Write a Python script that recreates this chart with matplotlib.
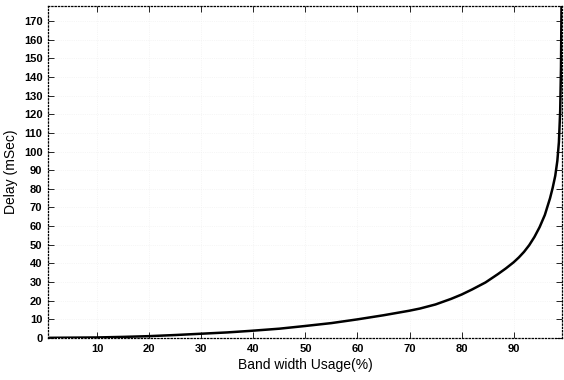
import matplotlib
matplotlib.use("Agg")
import matplotlib.pyplot as plt

usage = [1, 10, 15, 20, 25, 30, 35, 39.3, 45, 49.8, 55, 60, 65, 69.9, 72, 75, 78, 80,
         82, 84.6, 87, 88.5, 90, 91, 92, 93, 94, 95, 96, 97, 97.5, 98.0, 98.4, 98.7,
         98.95, 99.1, 99.2]
delay = [0.1, 0.3, 0.6, 1.0, 1.6, 2.3, 3.0, 3.8, 5.0, 6.4, 8.0, 10, 12.2, 14.6, 15.8, 18.0,
         21.0, 23.3, 26.0, 29.8, 34.3, 37.3, 40.6, 43.2, 46.2, 49.8, 54.2, 59.5, 66, 75,
         80.5, 87, 95, 105, 122, 145, 178]
xticks = [10, 20, 30, 40, 50, 60, 70, 80, 90]
yticks = list(range(0, 171, 10))

plt.rcParams['font.family'] = ['Liberation Sans', 'DejaVu Sans']
fig = plt.figure(figsize=(5.64, 3.8), dpi=100)
ax = fig.add_axes([0.0851, 0.1105, 0.9114, 0.8735])
ax.plot(usage, delay, color='black', lw=1.8, solid_joinstyle='round')
ax.set_xlim(0.55, 99.3)
ax.set_ylim(0, 178)
ax.set_xticks(xticks)
ax.set_yticks(yticks)
ax.tick_params(direction='in', length=4, width=0.6, labelsize=8, pad=4,
               top=True, right=True)
for lab in ax.get_xticklabels() + ax.get_yticklabels():
    lab.set_fontweight('bold')
for s in ax.spines.values():
    s.set_linestyle(':')
    s.set_linewidth(0.9)
ax.grid(True, linestyle=':', color='#eeeeee', linewidth=0.5)
ax.set_xlabel('Band width Usage(%)', fontsize=10, labelpad=3)
ax.set_ylabel('Delay (mSec)', fontsize=10, labelpad=4)
fig.savefig('out.png', dpi=100)
